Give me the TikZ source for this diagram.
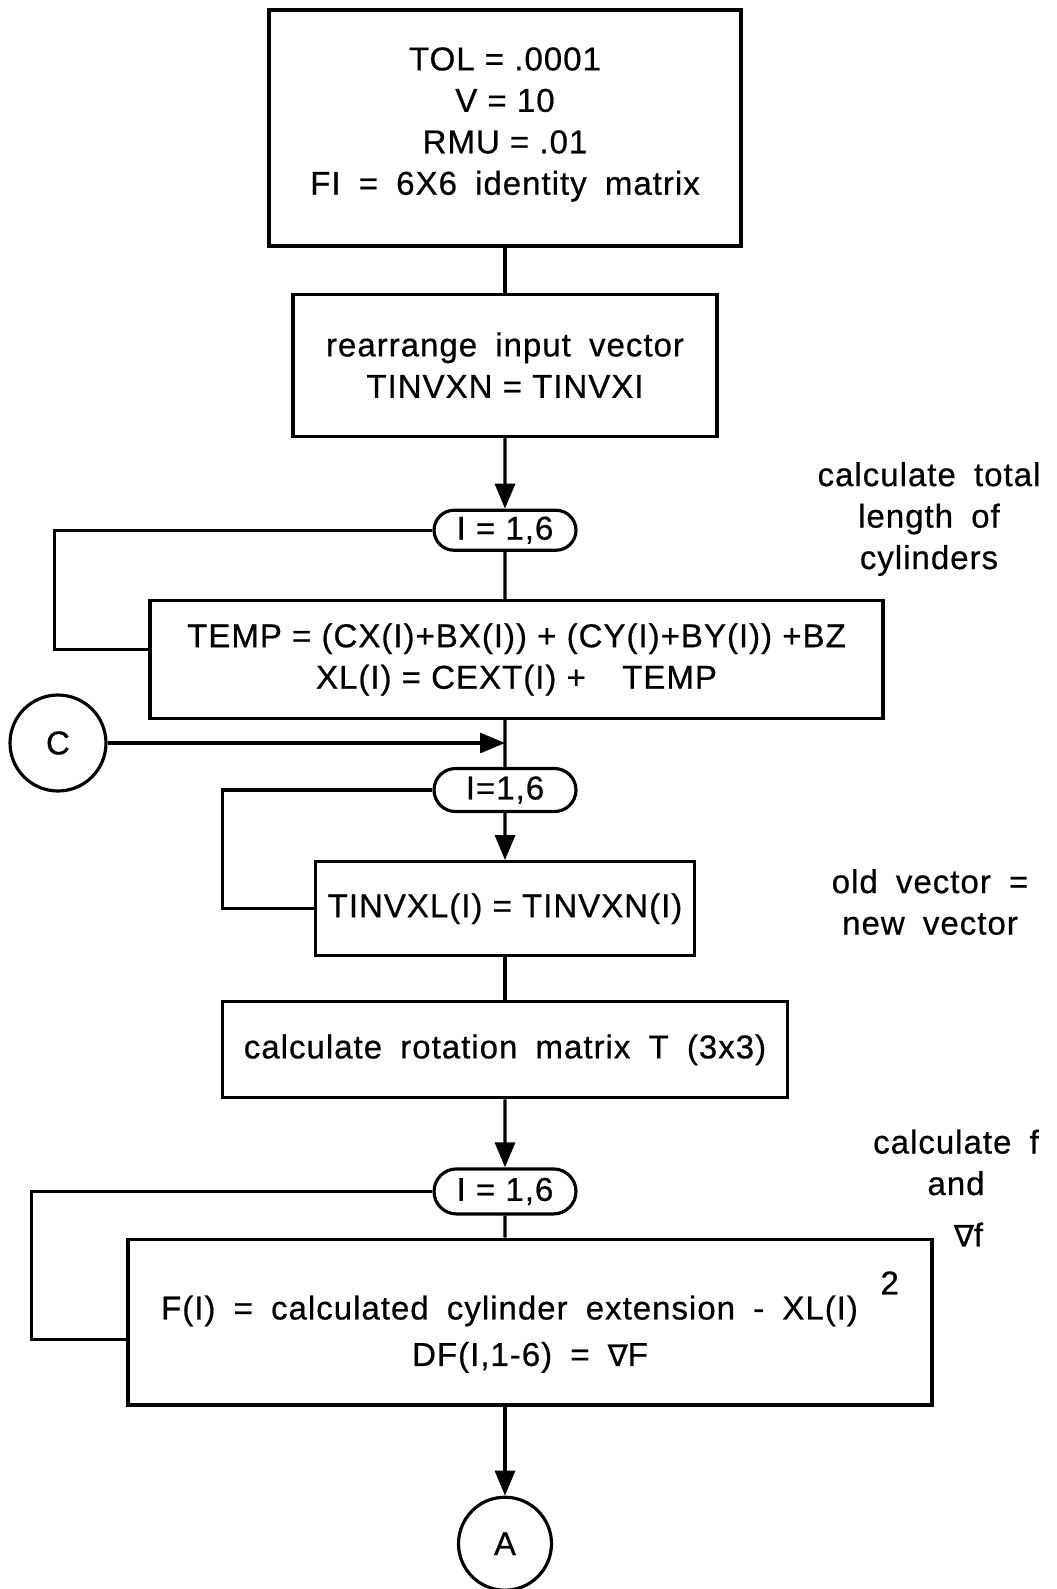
\documentclass[tikz,border=0pt]{standalone}
\usepackage{fontspec}
\setmainfont{Liberation Sans}[LetterSpace=3, FakeBold=0.6]
\newfontfamily\symfont[Scale=0.9, FakeBold=0.6]{DejaVu Sans}
\usetikzlibrary{arrows.meta, positioning, shapes.misc}
\newcommand{\wsp}{\hspace{0.55em}}

\begin{document}
\begin{tikzpicture}[
    x=0.02cm, y=-0.02cm,
    node distance = 1cm,
    every node/.style = {font=\fontsize{18.8}{23.6}\selectfont},
    box/.style      = {draw, line width=1.8pt, align=center, inner sep=0pt},
    loopnode/.style = {draw, line width=1.8pt, rounded rectangle,
                       minimum width=2.84cm, minimum height=0.84cm, inner sep=0pt},
    conn/.style     = {circle, draw, line width=1.8pt, inner sep=0pt},
    sidenote/.style = {align=center},
    link/.style     = {line width=1.8pt},
    arrow/.style    = {link, -{Triangle[length=0.5cm, width=0.4cm]}},
  ]
  \useasboundingbox (0,0) rectangle (1056,1589);

  \node[box, minimum width=9.44cm, minimum height=4.72cm] (init) at (505,128)
    {TOL = .0001\\V = 10\\RMU = .01\\FI\wsp =\wsp 6X6\wsp identity\wsp matrix\\[-0.55cm]\mbox{}};
  \node[box, minimum width=8.48cm, minimum height=2.84cm, below=0.9cm of init] (rearrange)
    {rearrange\wsp input\wsp vector\\TINVXN = TINVXI};
  \node[loopnode, minimum height=0.8cm, below=1.42cm of rearrange] (loop1) {I = 1,6};
  \node[box, minimum width=14.66cm, minimum height=2.36cm, below=0.94cm of loop1, xshift=0.23cm] (temp)
    {TEMP = (CX(I)+BX(I)) + (CY(I)+BY(I)) +BZ\\XL(I) = CEXT(I) +\wsp\wsp TEMP};
  \node[loopnode, minimum height=0.86cm, below=0.94cm of temp, xshift=-0.23cm] (loop2) {I=1,6};
  \node[box, minimum width=7.58cm, minimum height=1.88cm, below=0.94cm of loop2] (tinvxl)
    {TINVXL(I) = TINVXN(I)};
  \node[box, minimum width=11.3cm, minimum height=1.92cm, below=0.86cm of tinvxl] (rot)
    {calculate\wsp rotation\wsp matrix\wsp T\wsp (3x3)};
  \node[loopnode, minimum height=0.9cm, below=1.36cm of rot] (loop3) {I = 1,6};
  \node[box, minimum width=16.08cm, minimum height=3.32cm, below=0.44cm of loop3, xshift=0.5cm] (fbox)
    {F(I)\wsp =\wsp calculated\wsp cylinder\wsp extension\wsp -\wsp XL(I)\hspace{0.45cm}\raisebox{0.5cm}{2}\\[0.1cm]
     DF(I,1-6)\wsp =\wsp {\symfont ∇}F};
  \node[conn, minimum size=1.86cm, below=1.78cm of fbox, xshift=-0.5cm] (a) {A};
  \node[conn, minimum size=1.92cm] (c) at (58,743) {C};

  % notes on the right
  \node[sidenote] (lengthnote) at (929,519) {calculate\wsp total\\length\wsp of\\cylinders};
  \node[sidenote] (vecnote) at (930,902) {old\wsp vector\wsp =\\new\wsp vector};
  \node[sidenote] (fnote) at (956,1188) {calculate\wsp f\\and\\[0.2cm]\hspace*{0.5cm}{\symfont ∇}f};

  \draw[link] (init) -- (rearrange);
  \draw[arrow] (rearrange) -- (loop1);
  \draw[link] (loop1) -- (loop1 |- temp.north);
  \draw[link] (loop1.west) -- ++(-7.56cm,0) |- ([yshift=0.2cm]temp.west);
  \draw[link] (loop2 |- temp.south) -- (loop2);
  \coordinate (cjoin) at (loop2 |- c);
  \draw[arrow] (c) -- (cjoin);
  \draw[arrow] (loop2) -- (tinvxl);
  \draw[link] (loop2.west) -- ++(-4.2cm,0) |- (tinvxl.west);
  \draw[link] (tinvxl) -- (rot);
  \draw[arrow] (rot) -- (loop3);
  \draw[link] (loop3) -- (loop3 |- fbox.north);
  \draw[link] (loop3.west) -- ++(-8.02cm,0) |- ([yshift=-0.34cm]fbox.west);
  \draw[arrow] (a |- fbox.south) -- (a);
\end{tikzpicture}
\end{document}
